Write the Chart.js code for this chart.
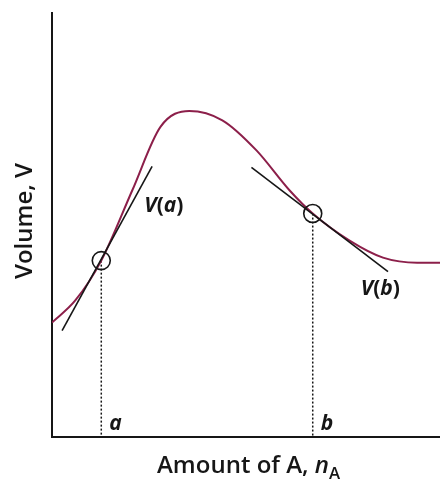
<!DOCTYPE html>
<html>
<head>
<meta charset="utf-8">
<script src="https://cdn.jsdelivr.net/npm/chart.js@4.4.1/dist/chart.umd.min.js"></script>
<style>
  html, body { margin: 0; padding: 0; background: #fff; overflow: hidden; }
  #wrap { width: 440px; height: 479px; position: relative; }
</style>
</head>
<body>
<div id="wrap"><canvas id="volChart"></canvas></div>
<script>
// curve of V against n_A (arbitrary units)
const curveN = [0, 6, 12.7, 20.7, 28.0, 35.4, 43.9, 52.7, 61.2, 67.2, 76.7, 85.3, 94.1, 100];
const curveV = [27.0, 32.2, 41.6, 58.2, 73.2, 76.9, 74.7, 67.6, 58.2, 52.7, 46.3, 42.3, 41.1, 41.1];

// tangent segments at a and b
const tangentAN = [2.6, 25.8];
const tangentAV = [25.1, 63.8];
const tangentBN = [51.4, 86.6];
const tangentBV = [63.6, 39.0];

// the two marked compositions
const markLabels = ['a', 'b'];
const markN = [12.7, 67.2];
const markV = [41.6, 52.7];

const xTitle = 'Amount of A, ';
const yTitle = 'Volume, ';

const ink = '#161616';
const curveColor = '#8c1f4a';
const font = '"Open Sans", "Liberation Sans", sans-serif';

const pts = (xs, ys) => xs.map((x, i) => ({ x, y: ys[i] }));

// draws a row of text pieces, some italic, some subscript
function drawRuns(ctx, runs, x, y, size, weight) {
  runs.forEach(r => {
    const s = r.sub ? size * 0.7 : size;
    ctx.font = `${r.italic ? 'italic ' : ''}${weight} ${s}px ${font}`;
    ctx.fillText(r.t, x, y + (r.sub ? size * 0.25 : 0));
    x += ctx.measureText(r.t).width;
  });
}

const labelPlugin = {
  id: 'labels',
  afterDatasetsDraw(chart) {
    const ctx = chart.ctx;
    const xs = chart.scales.x, ys = chart.scales.y;
    ctx.save();
    ctx.fillStyle = ink;
    ctx.textBaseline = 'alphabetic';
    ctx.textAlign = 'left';

    // tangent labels
    drawRuns(ctx, [{ t: 'V', italic: true }, { t: '(' }, { t: 'a', italic: true }, { t: ')' }],
      xs.getPixelForValue(23.8), ys.getPixelForValue(53.0), 21, 700);
    drawRuns(ctx, [{ t: 'V', italic: true }, { t: '(' }, { t: 'b', italic: true }, { t: ')' }],
      xs.getPixelForValue(79.6), ys.getPixelForValue(33.4), 21, 700);

    // a and b next to the dotted lines
    markLabels.forEach((m, i) => {
      drawRuns(ctx, [{ t: m, italic: true }], xs.getPixelForValue(markN[i]) + 8, ys.bottom - 7, 21, 700);
    });

    // axis titles
    drawRuns(ctx, [{ t: xTitle }, { t: 'n', italic: true }, { t: 'A', sub: true }], 157, 473, 24, 600);
    ctx.translate(32, 279);
    ctx.rotate(-Math.PI / 2);
    drawRuns(ctx, [{ t: yTitle }, { t: 'V' }], 0, 0, 24, 600);
    ctx.restore();
  }
};

const ctx = document.getElementById('volChart').getContext('2d');
window.volChart = new Chart(ctx, {
  type: 'scatter',
  data: {
    datasets: [
      {
        data: pts(curveN, curveV),
        showLine: true,
        borderColor: curveColor,
        borderWidth: 2,
        pointRadius: 0,
        cubicInterpolationMode: 'monotone',
        order: 3
      },
      {
        data: pts(tangentAN, tangentAV),
        showLine: true,
        borderColor: ink,
        borderWidth: 1.6,
        pointRadius: 0,
        order: 2
      },
      {
        data: pts(tangentBN, tangentBV),
        showLine: true,
        borderColor: ink,
        borderWidth: 1.6,
        pointRadius: 0,
        order: 2
      },
      // dotted drop lines
      ...markN.map((n, i) => ({
        data: [{ x: n, y: markV[i] }, { x: n, y: 0 }],
        showLine: true,
        borderColor: ink,
        borderWidth: 1.5,
        borderDash: [2, 2],
        pointRadius: 0,
        order: 4
      })),
      {
        data: pts(markN, markV),
        showLine: false,
        pointRadius: 9,
        pointBackgroundColor: 'rgba(255,255,255,0)',
        pointBorderColor: ink,
        pointBorderWidth: 1.6,
        order: 1
      }
    ]
  },
  options: {
    responsive: true,
    maintainAspectRatio: false,
    animation: false,
    layout: { autoPadding: false, padding: { left: 52, right: 0, top: 13, bottom: 42 } },
    plugins: { legend: { display: false }, tooltip: { enabled: false } },
    scales: {
      x: {
        type: 'linear',
        min: 0,
        max: 100,
        grid: { display: false, drawTicks: false },
        ticks: { display: false },
        border: { display: true, color: ink, width: 2 }
      },
      y: {
        type: 'linear',
        min: 0,
        max: 100,
        grid: { display: false, drawTicks: false },
        ticks: { display: false },
        border: { display: true, color: ink, width: 2 }
      }
    }
  },
  plugins: [labelPlugin]
});
</script>
</body>
</html>
